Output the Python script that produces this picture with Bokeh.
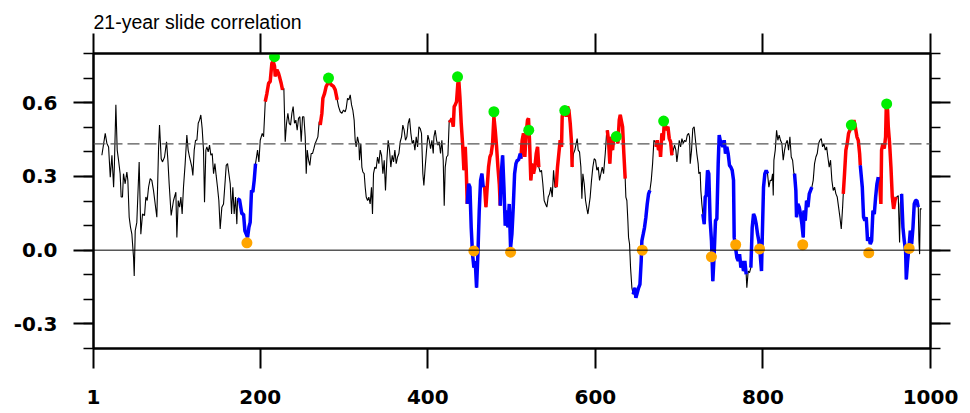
import numpy as np
from bokeh.plotting import figure
from bokeh.models import Range1d, LinearAxis, FixedTicker, Span, PrintfTickFormatter, CustomJSTickFormatter
from bokeh.embed import file_html
from bokeh.resources import INLINE

# ---- data: 21-year sliding correlation ----
year = [11, 15, 17, 19, 21, 23, 25, 26, 27.7, 29.3, 30.9, 32.8, 34, 35.6, 36.8, 38.8, 40.8, 42, 43.6, 45.2,
        46.8, 48.8, 49.6, 50.8, 52.7, 55.5, 57.5, 59.5, 61.9, 63.5, 65.1, 66.7, 68.7, 70.6, 72.6, 76.6, 78.6,
        79.8, 81.8, 83.4, 85.8, 88.2, 89.8, 91.3, 93.7, 96.5, 99.3,
        100.5, 102.1, 103.7, 105.3, 106.8, 108.4, 110.4, 112.4, 114.0, 115.6, 118.4, 119.6, 121.2, 122.8, 124.4,
        126.0, 127.5, 129.1, 130.7, 132.3, 133.5, 135.1, 136.3, 137.9, 139.5, 141.1, 142.7, 144.3, 145.9, 147.4,
        149.0, 150.6, 152.2, 154.2, 156.2, 158.2, 159.4, 161.0, 162.6, 164.2, 165.8, 167.3, 168.9, 170.5, 172.1,
        172.9, 175.3, 178.1, 180.1, 181.7, 183.3, 184.9, 186.5, 188.0, 189.6, 191.2, 192.8, 194.4, 196.8, 198.4,
        200.0, 202.4,
        204.0, 206.0, 208.0, 210.0, 211.9, 213.9, 215.5, 217.1, 217.9, 219.9, 221.8, 223.4, 225.0, 226.6, 228.2,
        229.8, 231.4, 233.0, 234.6, 236.2, 237.8, 239.3, 240.9, 242.5, 244.1, 245.7, 247.3, 248.9, 250.5, 252.1,
        253.7, 254.9, 256.1, 257.7, 259.2, 260.8, 262.4, 264.0, 265.6, 267.2, 268.8, 270.4, 271.6, 273.6, 274.8,
        276.8, 278.7, 280.7, 282.3, 284.7, 287.5, 289.5, 291.9, 293.5, 295.5, 297.5, 299.4,
        301.4, 302.6, 304.2, 305.8, 307.4, 309.0, 310.5, 312.1, 313.3, 314.5, 316.1, 317.7, 318.5, 320.1, 321.3,
        322.5, 324.1, 325.3, 326.5, 328.1, 329.6, 331.2, 332.8, 334.0, 335.2, 336.8, 338.4, 340.0, 341.6, 343.2,
        344.8, 346.4, 348.0, 349.5, 351.1, 352.7, 354.3, 355.9, 357.5, 359.1, 360.7, 362.3, 363.9, 365.5, 367.1,
        368.7, 370.2, 371.8, 373.4, 375.0, 376.6, 378.2, 379.8, 381.4, 383.0, 384.6, 386.2, 387.8, 389.4, 390.9,
        392.5, 394.1, 395.3, 396.9, 398.5, 400.1, 401.7, 403.3, 404.9, 406.5,
        407.3, 408.9, 410.5, 412.0, 413.6, 415.2, 416.8, 418.4, 419.6, 420.8, 422.4, 424.0, 425.6, 427.2, 428.8,
        430.4, 431.5, 432.7, 434.3, 435.9, 437.1, 438.3, 439.9, 441.5, 443.1, 444.7, 445.9, 447.1, 448.7, 450.3,
        451.8, 453.4, 455.0, 456.6, 458.2, 459.8, 461.4, 463.0, 464.6, 466.2, 467.8, 469.4, 470.9, 472.5, 474.1,
        475.7, 477.3, 478.9, 480.5, 482.1, 483.7, 485.3, 486.5, 487.7, 489.3, 490.9, 492.4, 494.0, 495.6, 497.2,
        498.8, 500.4, 502.0, 503.6, 505.2, 506.8,
        508.3, 510.3, 511.1, 512.6, 514.2, 515.8, 517.4, 519.0, 520.2, 521.4, 523.0, 524.6, 526.2, 527.8, 529.4,
        531.0, 532.5, 534.1, 535.7, 537.3, 538.9, 540.5, 542.1, 543.7, 545.3, 546.9, 548.5, 550.1, 551.7, 553.2,
        554.8, 556.4, 558.0, 559.6, 560.4, 562.0, 563.6, 565.2, 566.8, 568.4, 570.0, 571.6, 572.3, 573.9, 575.5,
        577.1, 578.3, 579.5, 581.1, 582.7, 583.9, 585.1, 586.7, 588.3, 589.9, 591.1, 592.2, 593.8, 595.4, 597.0,
        598.6, 600.2, 601.8, 603.4, 605.0, 606.6, 608.2, 609.8,
        611.8, 613.4, 614.2, 615.7, 617.3, 618.9, 620.5, 622.1, 623.7, 625.3, 626.9, 628.5, 629.7, 630.9, 632.5,
        634.0, 635.6, 636.4, 637.6, 638.8, 639.6, 640.8, 642.0, 643.6, 645.2, 646.8, 648.4, 650.0, 651.6, 653.2,
        654.7, 655.5, 657.1, 658.7, 660.3, 661.9, 663.5, 665.1, 666.7, 668.3, 669.9, 671.5, 672.3, 673.8, 675.4,
        677.0, 677.8, 679.4, 681.0, 682.2, 683.4, 685.0, 686.6, 688.2, 689.8, 691.4, 693.0, 694.5, 696.1, 697.3,
        698.5, 700.1, 701.7, 703.3, 704.9, 706.5, 708.1, 709.7, 711.3,
        712.4, 713.2, 714.8, 716.3, 717.9, 719.5, 721.1, 722.7, 723.5, 725.1, 725.9, 727.1, 728.3, 729.9, 731.1,
        732.3, 733.9, 735.4, 737.0, 738.6, 740.2, 741.8, 743.4, 745.0, 746.6, 747.8, 749.0, 750.6, 752.2, 753.8,
        755.3, 756.9, 758.5, 760.1, 761.7, 763.3, 764.9, 765.7, 767.3, 768.9, 770.5, 772.1, 773.7, 775.2, 776.8,
        778.4, 780.0, 780.8, 782.4, 784.0, 785.6, 787.2, 788.8, 790.4, 792.0, 793.6, 795.1, 796.7, 798.3, 799.1,
        800.7, 802.3, 803.9, 805.5, 807.1, 808.7, 810.3, 811.5, 812.3, 813.1,
        814.7, 816.3, 817.8, 819.4, 821.0, 822.6, 824.2, 825.8, 827.4, 829.0, 830.6, 832.2, 833.8, 835.4, 837.0,
        837.7, 839.3, 840.1, 841.7, 843.3, 844.9, 846.5, 848.1, 848.9, 850.5, 852.1, 853.7, 855.3, 856.9, 858.4,
        860.0, 861.6, 863.2, 864.8, 866.4, 868.0, 869.6, 871.2, 872.8, 874.4, 876.0, 877.5, 879.1, 880.7, 882.3,
        883.9, 885.5, 887.1, 888.7, 890.3, 891.9, 893.5, 895.1, 895.9, 897.4, 899.0, 900.6, 902.2, 903.8, 905.4,
        907.0, 908.6, 910.2,
        912.2, 913.8, 915.4, 916.2, 918.6, 920.1, 921.7, 923.3, 924.9, 926.5, 928.1, 929.7, 931.3, 932.9, 934.5,
        936.1, 937.7, 939.2, 940.8, 941.6, 943.2, 944.8, 946.4, 947.2, 948.8, 949.6, 951.2, 952.8, 954.4, 956.0,
        957.6, 959.1, 959.9, 961.5, 963.1, 963.9, 965.5, 967.1, 968.7, 970.3, 971.1, 972.7, 974.3, 975.9, 977.5,
        979.1, 980.6, 982.2, 983.8, 985.4, 986.2, 987.0, 987.8, 989.4]

corr = [0.386, 0.475, 0.434, 0.420, 0.297, 0.386, 0.256, 0.352, 0.591, 0.407, 0.366, 0.311, 0.216, 0.216, 0.311,
        0.270, 0.318, 0.284, 0.134, 0.093, 0.065, -0.030, -0.105, 0.079, 0.113, 0.359, 0.065, 0.147, 0.141, 0.216,
        0.202, 0.256, 0.291, 0.284, 0.243, 0.134, 0.407, 0.509, 0.372, 0.359, 0.379, 0.441, 0.366, 0.270, 0.141,
        0.202, 0.236,
        0.052, 0.202, 0.175, 0.216, 0.147, 0.256, 0.352, 0.468, 0.407, 0.379, 0.338, 0.304, 0.407, 0.447, 0.447,
        0.516, 0.529, 0.550, 0.495, 0.407, 0.195, 0.407, 0.420, 0.400, 0.427, 0.386, 0.393, 0.311, 0.352, 0.304,
        0.256, 0.202, 0.086, 0.175, 0.188, 0.284, 0.345, 0.352, 0.311, 0.270, 0.147, 0.256, 0.147, 0.216, 0.106,
        0.209, 0.205, 0.147, 0.147, 0.079, 0.065, 0.052, 0.093, 0.113, 0.243, 0.236, 0.284, 0.352, 0.407, 0.359,
        0.447, 0.475,
        0.461, 0.604, 0.638, 0.679, 0.686, 0.761, 0.768, 0.748, 0.707, 0.734, 0.720, 0.700, 0.679, 0.652, 0.659,
        0.441, 0.516, 0.557, 0.516, 0.509, 0.557, 0.584, 0.516, 0.529, 0.488, 0.536, 0.543, 0.441, 0.543, 0.543,
        0.461, 0.311, 0.407, 0.366, 0.345, 0.393, 0.393, 0.413, 0.434, 0.447, 0.461, 0.523, 0.509, 0.557, 0.618,
        0.638, 0.666, 0.679, 0.686, 0.673, 0.666, 0.652, 0.611, 0.584, 0.563, 0.557, 0.570,
        0.563, 0.577, 0.618, 0.611, 0.632, 0.591, 0.570, 0.529, 0.447, 0.420, 0.461, 0.434, 0.366, 0.434, 0.338,
        0.318, 0.311, 0.256, 0.216, 0.202, 0.216, 0.188, 0.256, 0.147, 0.311, 0.338, 0.332, 0.379, 0.352, 0.407,
        0.386, 0.311, 0.366, 0.243, 0.366, 0.447, 0.407, 0.338, 0.386, 0.359, 0.407, 0.352, 0.379, 0.393, 0.441,
        0.461, 0.509, 0.488, 0.447, 0.461, 0.516, 0.536, 0.475, 0.434, 0.447, 0.407, 0.461, 0.420, 0.502, 0.495,
        0.475, 0.311, 0.263, 0.338, 0.407, 0.468, 0.447, 0.413, 0.447, 0.393,
        0.461, 0.488, 0.447, 0.427, 0.441, 0.393, 0.447, 0.366, 0.181, 0.338, 0.379, 0.386, 0.529, 0.523, 0.536,
        0.502, 0.584, 0.591, 0.604, 0.679, 0.686, 0.625, 0.516, 0.434, 0.325, 0.420, 0.325, 0.188, 0.270, 0.256,
        0.093, -0.016, -0.071, -0.044, -0.153, -0.016, 0.161, 0.284, 0.311, 0.256, 0.256, 0.175, 0.256, 0.338, 0.379,
        0.393, 0.434, 0.543, 0.488, 0.420, 0.338, 0.270, 0.181, 0.311, 0.386, 0.256, 0.100, 0.161, 0.093, 0.188,
        0.011, 0.065, 0.175, 0.311, 0.352, 0.366,
        0.366, 0.393, 0.372, 0.447, 0.475, 0.379, 0.475, 0.529, 0.536, 0.447, 0.284, 0.352, 0.311, 0.338, 0.393,
        0.420, 0.338, 0.318, 0.325, 0.270, 0.202, 0.188, 0.175, 0.216, 0.229, 0.256, 0.216, 0.325, 0.256, 0.256,
        0.338, 0.393, 0.447, 0.420, 0.543, 0.570, 0.577, 0.543, 0.584, 0.570, 0.516, 0.434, 0.338, 0.393, 0.407,
        0.434, 0.454, 0.407, 0.400, 0.338, 0.209, 0.311, 0.270, 0.202, 0.168, 0.147, 0.175, 0.216, 0.284, 0.338,
        0.372, 0.366, 0.325, 0.338, 0.284, 0.311, 0.338, 0.311,
        0.393, 0.475, 0.488, 0.447, 0.352, 0.461, 0.407, 0.461, 0.447, 0.475, 0.434, 0.529, 0.550, 0.529, 0.502,
        0.393, 0.291, 0.216, 0.202, 0.120, 0.052, 0.025, -0.071, -0.153, -0.180, -0.153, -0.194, -0.173, -0.153, -0.139,
        -0.044, 0.038, 0.065, 0.093, 0.134, 0.188, 0.229, 0.243, 0.284, 0.352, 0.447, 0.441, 0.420, 0.447, 0.407,
        0.420, 0.379, 0.475, 0.447, 0.516, 0.509, 0.488, 0.502, 0.454, 0.441, 0.386, 0.407, 0.427, 0.407, 0.359,
        0.393, 0.447, 0.420, 0.454, 0.434, 0.447, 0.441, 0.468, 0.475,
        0.461, 0.352, 0.407, 0.495, 0.502, 0.447, 0.393, 0.352, 0.311, 0.318, 0.243, 0.188, 0.147, 0.106, 0.216,
        0.222, 0.325, 0.311, 0.120, 0.038, -0.126, -0.016, 0.120, 0.127, 0.352, 0.468, 0.447, 0.434, 0.420, 0.447,
        0.393, 0.420, 0.393, 0.345, 0.338, 0.325, 0.284, 0.052, 0.011, -0.030, -0.044, -0.016, -0.071, -0.044, -0.085,
        -0.044, -0.098, -0.153, -0.085, -0.091, -0.071, 0.093, 0.147, 0.134, 0.106, 0.065, 0.038, -0.016, -0.085, 0.038,
        0.256, 0.311, 0.325, 0.311, 0.256, 0.284, 0.284, 0.311, 0.222, 0.366,
        0.407, 0.488, 0.447, 0.468, 0.447, 0.434, 0.366, 0.407, 0.434, 0.447, 0.407, 0.461, 0.379, 0.366, 0.311,
        0.311, 0.243, 0.134, 0.188, 0.175, 0.147, 0.106, 0.052, 0.161, 0.120, 0.202, 0.175, 0.229, 0.243, 0.256,
        0.284, 0.352, 0.379, 0.393, 0.434, 0.447, 0.454, 0.420, 0.434, 0.407, 0.420, 0.379, 0.338, 0.366, 0.284,
        0.243, 0.256, 0.229, 0.216, 0.175, 0.134, 0.086, 0.175, 0.229, 0.311, 0.407, 0.434, 0.475, 0.488, 0.509,
        0.502, 0.529, 0.502,
        0.461, 0.447, 0.393, 0.345, 0.256, 0.134, 0.120, 0.134, 0.038, 0.052, 0.025, 0.038, 0.161, 0.147, 0.216,
        0.270, 0.297, 0.284, 0.188, 0.407, 0.434, 0.413, 0.461, 0.584, 0.570, 0.502, 0.434, 0.338, 0.216, 0.168,
        0.202, 0.216, 0.216, 0.222, 0.031, 0.188, 0.229, 0.093, 0.038, -0.003, -0.119, -0.044, 0.011, 0.079, 0.025,
        0.093, 0.188, 0.202, 0.202, 0.175, 0.038, -0.016, 0.168, 0.168]

# periods drawn in red (high) and blue (low)
red_periods = [(206.0, 226.6), (271.6, 291.9), (425.6, 447.1), (466.2, 486.5), (511.1, 532.5),
               (553.2, 572.3), (614.2, 635.6), (672.3, 691.4), (895.9, 916.2), (937.7, 959.1)]
blue_periods = [(172.9, 194.4), (447.1, 466.2), (486.5, 511.1), (645.2, 665.1), (728.3, 780.0),
                (785.6, 805.5), (837.7, 858.4), (916.2, 937.7), (965.5, 985.4)]

# marked maxima (green) and minima (orange)
peak_x = [217.0, 281.5, 435.5, 478.9, 520.5, 563.5, 625.0, 681.5, 905.5, 947.7]
peak_y = [0.787, 0.700, 0.705, 0.563, 0.488, 0.568, 0.462, 0.525, 0.509, 0.595]
trough_x = [184.1, 455.0, 498.8, 656.0, 738.5, 767.5, 796.0, 847.5, 926.3, 974.5]
trough_y = [0.030, -0.003, -0.008, 0.000, -0.027, 0.022, 0.005, 0.022, -0.011, 0.007]

threshold = 0.432
x_ticks = [1, 200, 400, 600, 800, 1000]
y_ticks = [-0.3, 0.0, 0.3, 0.6]
y_minor = [-0.4, -0.3, -0.2, -0.1, 0.0, 0.1, 0.2, 0.3, 0.4, 0.5, 0.6, 0.7, 0.8]
title_text = "21-year slide correlation"

xs = np.array(year)
ys = np.array(corr)


def pieces(periods):
    px, py = [], []
    for a, b in periods:
        m = (xs >= a - 1e-6) & (xs <= b + 1e-6)
        px.append(list(xs[m]))
        py.append(list(ys[m]))
    return px, py


p = figure(width=970, height=413, x_range=Range1d(1, 1000), y_range=Range1d(-0.4, 0.8),
           output_backend="svg", toolbar_location=None, title=title_text,
           x_axis_location=None, y_axis_location=None,
           min_border_left=93, min_border_right=40, min_border_top=53, min_border_bottom=65)
p.xgrid.grid_line_color = None
p.ygrid.grid_line_color = None
p.outline_line_color = "black"
p.outline_line_width = 2
p.background_fill_color = "white"
p.border_fill_color = "white"

p.title.align = "left"
p.title.text_font = "Liberation Sans"
p.title.text_font_size = "19.5px"
p.title.text_font_style = "normal"
p.title.text_color = "black"
p.title.standoff = 2
p.title.offset = 0

TICK_FONT = "DejaVu Sans"
blank = CustomJSTickFormatter(code="return '';")


def style(ax, show_labels):
    ax.axis_line_width = 2
    ax.major_tick_out = 20
    ax.major_tick_in = 0
    ax.minor_tick_out = 10
    ax.minor_tick_in = 0
    ax.major_tick_line_width = 2
    ax.minor_tick_line_width = 1.5
    if show_labels:
        ax.major_label_text_font = TICK_FONT
        ax.major_label_text_font_style = "bold"
        ax.major_label_text_font_size = "20px"
        ax.major_label_text_color = "black"
    else:
        ax.formatter = blank
        ax.major_label_standoff = 0


xb = LinearAxis(ticker=FixedTicker(ticks=x_ticks, minor_ticks=[]))
style(xb, True)
xb.major_label_standoff = 21
xt = LinearAxis(ticker=FixedTicker(ticks=x_ticks, minor_ticks=[]))
style(xt, False)
yl = LinearAxis(ticker=FixedTicker(ticks=y_ticks, minor_ticks=y_minor),
                formatter=PrintfTickFormatter(format="%.1f"))
style(yl, True)
yl.major_label_standoff = 16
yr = LinearAxis(ticker=FixedTicker(ticks=y_ticks, minor_ticks=y_minor))
style(yr, False)
p.add_layout(xb, "below")
p.add_layout(xt, "above")
p.add_layout(yl, "left")
p.add_layout(yr, "right")

p.add_layout(Span(location=0.0, dimension="width", line_color="black", line_width=1))
p.add_layout(Span(location=threshold, dimension="width", line_color="#555555",
                  line_dash="12 5", line_width=1.2))

p.line(xs, ys, line_color="black", line_width=1.1)
rx, ry = pieces(red_periods)
bx, by = pieces(blue_periods)
p.multi_line(rx, ry, line_color="#ff0000", line_width=3.5)
p.multi_line(bx, by, line_color="#0000ff", line_width=3.5)
p.scatter(peak_x, peak_y, size=11, fill_color="#00ee00", line_color=None)
p.scatter(trough_x, trough_y, size=11, fill_color="#ffa500", line_color=None)

open("out.html", "w").write(file_html(p, INLINE))
